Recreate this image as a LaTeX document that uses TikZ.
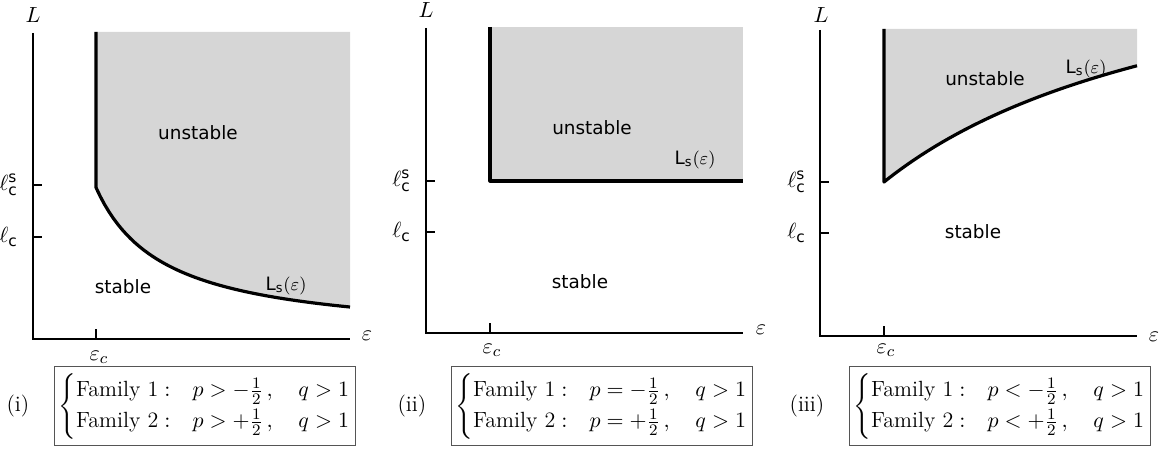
\documentclass[tikz,border=0pt]{standalone}
\usepackage{amsmath}
\usepackage{fontspec}
\setsansfont{DejaVu Sans}
\usepackage{tikz}
\usetikzlibrary{positioning}
\definecolor{shade}{HTML}{D6D6D6}
\definecolor{frame}{HTML}{555555}
\newcommand{\famrow}[2]{\text{Family #1}: & p#2\,,\quad q>1}

\begin{document}
\begin{tikzpicture}[
  x=0.5pt, y=-0.5pt,
  font=\fontsize{11}{13}\selectfont,
  axis/.style={line width=1pt},
  tick/.style={line width=0.8pt},
  bound/.style={line width=1.6pt, line join=round},
  region/.style={fill=shade},
  phase/.style={font=\sffamily\fontsize{9.2}{11}\selectfont},
  famb/.style={draw=frame, line width=0.7pt, inner sep=2pt, minimum width=150pt, minimum height=39.5pt},
  tag/.style={inner sep=0pt}
]
\useasboundingbox (0,0) rectangle (1162,449);

% (i) curve bending down
\fill[region] (96,32) -- plot[domain=96:350, samples=60] (\x, {339-10300/(\x-28)}) -- (350,32) -- cycle;
\draw[bound] (96,32) -- plot[domain=96:350, samples=60] (\x, {339-10300/(\x-28)});
\draw[axis] (33,33) -- (33,339) -- (350,339);
\draw[tick] (96,339) -- (96,329);
\draw[tick] (33,185) -- (42,185);
\draw[tick] (33,237) -- (42,237);
\node (L1) at (33,15) {$L$};
\node (e1) at (367,336) {$\varepsilon$};
\node (ec1) at (99,357) {$\varepsilon_c$};
\node[anchor=east] (ls1) at (25,185) {$\ell_{\mathsf{c}}^{\mathsf{s}}$};
\node[anchor=east] (lc1) at (25,237) {$\ell_{\mathsf{c}}$};
\node[phase] (u1) at (198,133) {unstable};
\node[phase] (s1) at (123,287) {stable};
\node[phase] (c1) at (286,286) {L$_{\mathsf{s}}(\varepsilon)$};
\node[famb] (fam1) at (205,406) {$\begin{cases}\famrow{1}{>-\frac{1}{2}}\\ \famrow{2}{>+\frac{1}{2}}\end{cases}$};
\node[tag, left=12pt of fam1] (tag1) {(i)};

% (ii) flat boundary
\fill[region] (490,27) rectangle (743,181);
\draw[bound] (490,27) -- (490,181) -- (743,181);
\draw[axis] (426,28) -- (426,333) -- (743,333);
\draw[tick] (490,333) -- (490,323);
\draw[tick] (426,181) -- (435,181);
\draw[tick] (426,232) -- (435,232);
\node (L2) at (426,10) {$L$};
\node (e2) at (761,330) {$\varepsilon$};
\node (ec2) at (492,350) {$\varepsilon_c$};
\node[anchor=east] (ls2) at (418,181) {$\ell_{\mathsf{c}}^{\mathsf{s}}$};
\node[anchor=east] (lc2) at (418,232) {$\ell_{\mathsf{c}}$};
\node[phase] (u2) at (592,128) {unstable};
\node[phase] (s2) at (580,282) {stable};
\node[phase] (c2) at (695,160) {L$_{\mathsf{s}}(\varepsilon)$};
\node[famb] (fam2) at (602,406) {$\begin{cases}\famrow{1}{=-\frac{1}{2}}\\ \famrow{2}{=+\frac{1}{2}}\end{cases}$};
\node[tag, left=12pt of fam2] (tag2) {(ii)};

% (iii) curve bending up
\fill[region] (884,29) -- plot[domain=884:1137, samples=60] (\x, {182-0.8*(\x-884)/(1+0.00293*(\x-884))}) -- (1137,29) -- cycle;
\draw[bound] (884,29) -- plot[domain=884:1137, samples=60] (\x, {182-0.8*(\x-884)/(1+0.00293*(\x-884))});
\draw[axis] (820,30) -- (820,336) -- (1137,336);
\draw[tick] (884,336) -- (884,326);
\draw[tick] (820,182) -- (829,182);
\draw[tick] (820,233) -- (829,233);
\node (L3) at (821,15) {$L$};
\node (e3) at (1154,337) {$\varepsilon$};
\node (ec3) at (886,350) {$\varepsilon_c$};
\node[anchor=east] (ls3) at (813,182) {$\ell_{\mathsf{c}}^{\mathsf{s}}$};
\node[anchor=east] (lc3) at (813,233) {$\ell_{\mathsf{c}}$};
\node[phase] (u3) at (985,79) {unstable};
\node[phase] (s3) at (973,232) {stable};
\node[phase] (c3) at (1086,69) {L$_{\mathsf{s}}(\varepsilon)$};
\node[famb] (fam3) at (1000,406) {$\begin{cases}\famrow{1}{<-\frac{1}{2}}\\ \famrow{2}{<+\frac{1}{2}}\end{cases}$};
\node[tag, left=12pt of fam3] (tag3) {(iii)};
\end{tikzpicture}
\end{document}
